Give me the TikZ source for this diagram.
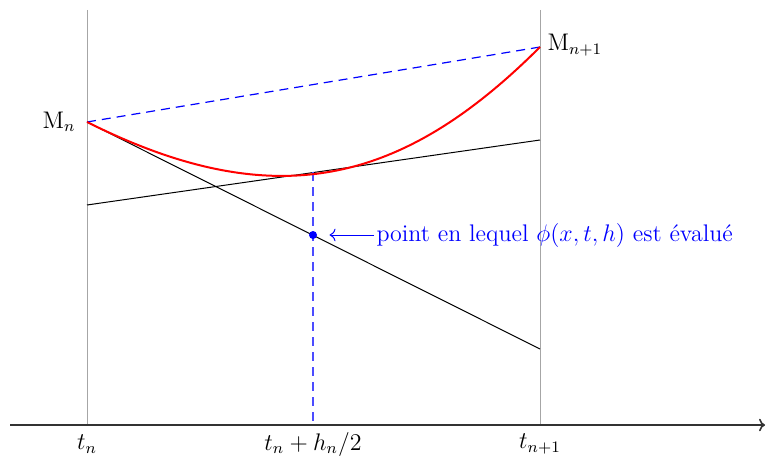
\documentclass[tikz,border=0pt]{standalone}
\usepackage{amsmath,amssymb}
\usetikzlibrary{arrows.meta}

\begin{document}
\begin{tikzpicture}[x=.5pt,y=-.5pt,line width=.5pt,font=\fontsize{12}{14}\selectfont]
\tikzset{guide/.style={gray!70,line width=.5pt},
  bluedash/.style={blue,dash pattern=on 4.5pt off 3pt,line width=.6pt}}
\path[use as bounding box] (0,0) rectangle (775,460);
\coordinate (Mn) at (87,122);
\coordinate (Mnp) at (540,47);
\coordinate (mid) at (313,172);
\draw[guide] (87,10) -- (87,425);
\draw[guide] (540,10) -- (540,425);
\draw[gray!40!black,line width=.8pt,-{To[length=3pt]}] (10,425) -- (765,425);
\draw[bluedash] (Mn) -- (Mnp);
\draw (Mn) -- (540,349);
\draw (87,205) -- (540,140);
\draw[bluedash,blue!70] (mid) -- (313,425);
\draw[red,line width=1pt] (Mn) .. controls (272,214.5) and (400,187) .. (Mnp);
\node[fill=blue,circle,inner sep=0pt,minimum size=4pt] (dot) at (313,235) {};
\node[anchor=west,inner sep=1pt,text=blue] (lbl) at (374,235) {point en lequel $\phi(x,t,h)$ est évalué};
\draw[blue,-{To[length=3pt]}] (lbl.west) -- ([xshift=6pt]dot.east);
\node[anchor=east,inner sep=1pt] (lMn) at (78,122) {$\mathrm{M}_n$};
\node[anchor=west,inner sep=1pt] (lMnp) at (545,45) {$\mathrm{M}_{n+1}$};
\node[inner sep=1pt] (ltn) at (87,444) {$t_n$};
\node[inner sep=1pt] (lth) at (313,444) {$t_n+h_n/2$};
\node[inner sep=1pt] (ltnp) at (540,444) {$t_{n+1}$};
\end{tikzpicture}
\end{document}
